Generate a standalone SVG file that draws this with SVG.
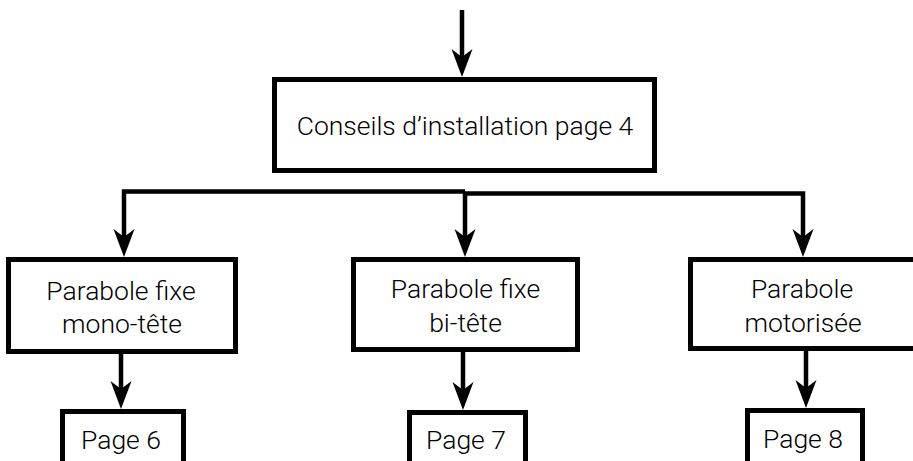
<svg xmlns="http://www.w3.org/2000/svg" xmlns:xlink="http://www.w3.org/1999/xlink" width="913" height="461" viewBox="0 0 913 461">
<style>
.box{fill:#fff;stroke:#000;stroke-width:5}
.ln{fill:none;stroke:#000;stroke-width:4.5;stroke-linejoin:miter}
.t{font-family:Roboto,"Liberation Sans",sans-serif;font-size:26.5px;font-weight:300;fill:#000;text-anchor:middle}
</style>
<defs>
<path id="ah" d="M0,0 L-10.5,-28 L0,-20 L10.5,-28 Z" fill="#000"/>
</defs>
<rect width="913" height="461" fill="#fff"/>
<g id="connectors">
<line class="ln" x1="462" y1="10" x2="462" y2="60"/>
<use xlink:href="#ah" x="462" y="77"/>
<path class="ln" d="M124,238 V191.5 H465"/>
<path class="ln" d="M465,238 V193.5 H803 V238"/>
<use xlink:href="#ah" x="124" y="257"/>
<use xlink:href="#ah" x="465" y="257"/>
<use xlink:href="#ah" x="803" y="257"/>
<line class="ln" x1="121" y1="354" x2="121" y2="392"/>
<use xlink:href="#ah" x="121" y="409"/>
<line class="ln" x1="463" y1="352" x2="463" y2="393"/>
<use xlink:href="#ah" x="463" y="410"/>
<line class="ln" x1="806" y1="351" x2="806" y2="391"/>
<use xlink:href="#ah" x="806" y="408"/>
</g>
<g id="conseils">
<rect class="box" x="274.5" y="79.5" width="380" height="91"/>
<text class="t" x="465" y="135">Conseils d’installation page 4</text>
</g>
<g id="mono">
<rect class="box" x="8.5" y="259.5" width="227" height="92"/>
<text class="t" x="121" y="300">Parabole fixe</text>
<text class="t" x="122" y="333">mono-tête</text>
</g>
<g id="bi">
<rect class="box" x="353.5" y="259.5" width="224" height="90"/>
<text class="t" x="465.5" y="298">Parabole fixe</text>
<text class="t" x="465.5" y="332">bi-tête</text>
</g>
<g id="moto">
<rect class="box" x="690.5" y="259.5" width="240" height="89"/>
<text class="t" x="802" y="298">Parabole</text>
<text class="t" x="803" y="332">motorisée</text>
</g>
<g id="page6">
<rect class="box" x="62.5" y="411.5" width="121" height="70"/>
<text class="t" x="121" y="449">Page 6</text>
</g>
<g id="page7">
<rect class="box" x="409.5" y="412.5" width="116" height="70"/>
<text class="t" x="466" y="449">Page 7</text>
</g>
<g id="page8">
<rect class="box" x="747.5" y="410.5" width="115" height="70"/>
<text class="t" x="803" y="448">Page 8</text>
</g>
</svg>
